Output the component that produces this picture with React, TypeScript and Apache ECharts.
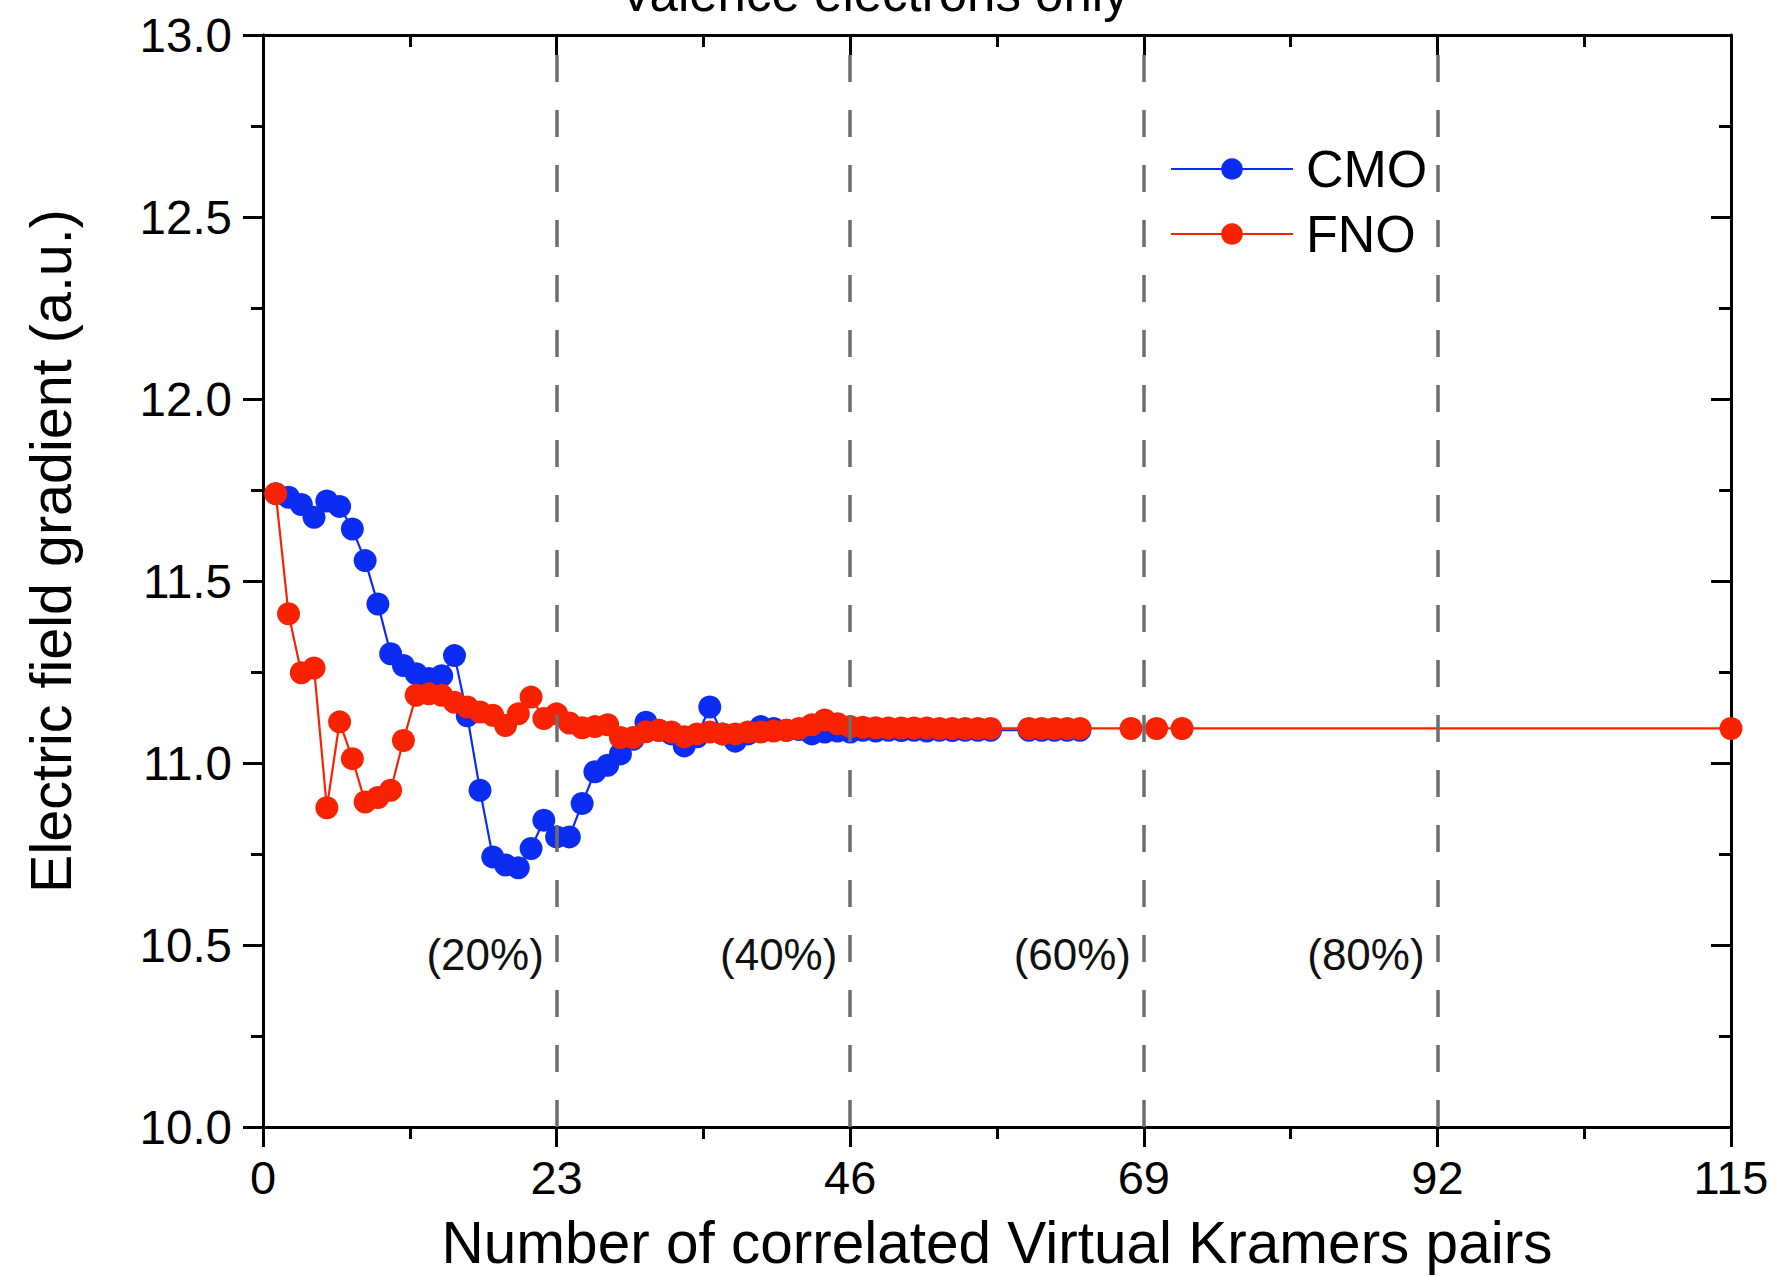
import React, { useEffect, useRef } from "react";
import * as echarts from "echarts";

const titleText = "Valence electrons only";
const xAxisTitle = "Number of correlated Virtual Kramers pairs";
const yAxisTitle = "Electric field gradient (a.u.)";

const cmoX = [
  1, 2, 3, 4, 5, 6, 7, 8, 9, 10, 11, 12, 13, 14, 15, 16, 17, 18, 19, 20,
  21, 22, 23, 24, 25, 26, 27, 28, 29, 30, 31, 32, 33, 34, 35, 36, 37, 38, 39, 40,
  41, 42, 43, 44, 45, 46, 47, 48, 49, 50, 51, 52, 53, 54, 55, 56, 57,
  60, 61, 62, 63, 64,
];
const cmoY = [
  11.74, 11.73, 11.71, 11.675, 11.72, 11.705, 11.643, 11.556, 11.437, 11.3,
  11.268, 11.245, 11.232, 11.24, 11.295, 11.13, 10.925, 10.742, 10.72, 10.712,
  10.765, 10.843, 10.797, 10.797, 10.889, 10.976, 10.994, 11.025, 11.065, 11.112,
  11.09, 11.08, 11.047, 11.072, 11.154, 11.08, 11.06, 11.08, 11.1, 11.095,
  11.09, 11.092, 11.08, 11.085, 11.088, 11.085, 11.09, 11.088, 11.09, 11.089,
  11.09, 11.088, 11.09, 11.089, 11.09, 11.09, 11.09,
  11.09, 11.09, 11.09, 11.09, 11.09,
];

const fnoX = [
  1, 2, 3, 4, 5, 6, 7, 8, 9, 10, 11, 12, 13, 14, 15, 16, 17, 18, 19, 20,
  21, 22, 23, 24, 25, 26, 27, 28, 29, 30, 31, 32, 33, 34, 35, 36, 37, 38, 39, 40,
  41, 42, 43, 44, 45, 46, 47, 48, 49, 50, 51, 52, 53, 54, 55, 56, 57,
  60, 61, 62, 63, 64, 68, 70, 72, 115,
];
const fnoY = [
  11.74, 11.41, 11.248, 11.261, 10.877, 11.113, 11.012, 10.893, 10.905, 10.925,
  11.062, 11.186, 11.19, 11.186, 11.167, 11.154, 11.14, 11.131, 11.103, 11.135,
  11.181, 11.122, 11.135, 11.11, 11.097, 11.1, 11.105, 11.07, 11.07, 11.086,
  11.09, 11.085, 11.072, 11.08, 11.085, 11.08, 11.08, 11.085, 11.085, 11.088,
  11.09, 11.095, 11.105, 11.118, 11.108, 11.1, 11.098, 11.097, 11.096, 11.096,
  11.096, 11.096, 11.095, 11.095, 11.095, 11.095, 11.095,
  11.095, 11.095, 11.095, 11.095, 11.095, 11.095, 11.095, 11.095, 11.095,
];

const boundaries = [23, 46, 69, 92];
const pctLabels = ["(20%)", "(40%)", "(60%)", "(80%)"];
const pctLabelOffset = 5.6;
const pctLabelY = 10.475;

const BLUE = "#0b2cf2";
const RED = "#f82200";
const FONT = "'Liberation Sans', Arial, sans-serif";

export default function App() {
  const ref = useRef<HTMLDivElement>(null);

  useEffect(() => {
    const chart = echarts.init(ref.current!, null, { renderer: "svg" });
    const pair = (xs: number[], ys: number[]) => xs.map((x, i) => [x, ys[i]]);
    const axisLine = { onZero: false, lineStyle: { color: "#000", width: 3 } };
    const tickStyle = { color: "#000", width: 3 };

    chart.setOption({
      animation: false,
      backgroundColor: "#ffffff",
      textStyle: { fontFamily: FONT },
      grid: { left: 263, right: 43, top: 35, bottom: 148 },
      legend: {
        data: ["CMO", "FNO"],
        orient: "vertical",
        left: 1165,
        top: 138,
        itemWidth: 122,
        itemHeight: 27,
        itemGap: 13,
        textStyle: { fontSize: 52, color: "#000", fontFamily: FONT, padding: [0, 0, 0, 8] },
      },
      xAxis: [
        {
          type: "value",
          position: "bottom",
          min: 0,
          max: 115,
          interval: 23,
          name: xAxisTitle,
          nameLocation: "middle",
          nameGap: 86,
          nameTextStyle: { fontSize: 58.5, color: "#000", fontFamily: FONT },
          axisLine,
          axisTick: { length: 20, lineStyle: tickStyle },
          minorTick: { show: true, splitNumber: 2, length: 12, lineStyle: tickStyle },
          axisLabel: { fontSize: 47, color: "#000", margin: 27, fontFamily: FONT },
          splitLine: { show: false },
        },
        {
          type: "value",
          position: "top",
          min: 0,
          max: 115,
          interval: 23,
          axisLine,
          axisTick: { inside: true, length: 20, lineStyle: tickStyle },
          minorTick: { show: true, splitNumber: 2, length: 12, lineStyle: tickStyle },
          axisLabel: { show: false },
          splitLine: { show: false },
        },
      ],
      yAxis: [
        {
          type: "value",
          position: "left",
          min: 10,
          max: 13,
          interval: 0.5,
          axisLine,
          axisTick: { length: 20, lineStyle: tickStyle },
          minorTick: { show: true, splitNumber: 2, length: 12, lineStyle: tickStyle },
          axisLabel: {
            fontSize: 47.5,
            color: "#000",
            margin: 31,
            fontFamily: FONT,
            formatter: (v: number) => v.toFixed(1),
          },
          splitLine: { show: false },
        },
        {
          type: "value",
          position: "right",
          min: 10,
          max: 13,
          interval: 0.5,
          axisLine,
          axisTick: { inside: true, length: 20, lineStyle: tickStyle },
          minorTick: { show: true, splitNumber: 2, length: 12, lineStyle: tickStyle },
          axisLabel: { show: false },
          splitLine: { show: false },
        },
      ],
      graphic: [
        {
          type: "text",
          x: 874,
          y: -7,
          style: {
            text: titleText,
            fontSize: 51,
            fontFamily: FONT,
            fill: "#000",
            align: "center",
            verticalAlign: "middle",
          },
        },
        {
          type: "text",
          x: 51,
          y: 551,
          rotation: Math.PI / 2,
          style: {
            text: yAxisTitle,
            fontSize: 57.5,
            fontFamily: FONT,
            fill: "#000",
            align: "center",
            verticalAlign: "middle",
          },
        },
      ],
      series: [
        {
          name: "CMO",
          type: "line",
          xAxisIndex: 0,
          yAxisIndex: 0,
          data: pair(cmoX, cmoY),
          symbol: "circle",
          symbolSize: 23,
          lineStyle: { color: BLUE, width: 2.2 },
          itemStyle: { color: BLUE },
          z: 2,
        },
        {
          name: "FNO",
          type: "line",
          xAxisIndex: 0,
          yAxisIndex: 0,
          data: pair(fnoX, fnoY),
          symbol: "circle",
          symbolSize: 23,
          lineStyle: { color: RED, width: 2.2 },
          itemStyle: { color: RED },
          z: 3,
          markLine: {
            silent: true,
            symbol: ["none", "none"],
            label: { show: false },
            lineStyle: { type: [27, 28], color: "#6e6e6e", width: 3.5 },
            data: boundaries.map((b) => ({ xAxis: b })),
            z: 5,
          },
        },
        {
          name: "labels",
          type: "scatter",
          xAxisIndex: 0,
          yAxisIndex: 0,
          silent: true,
          symbolSize: 1,
          itemStyle: { color: "rgba(0,0,0,0)", opacity: 1 },
          data: boundaries.map((b, i) => [b - pctLabelOffset, pctLabelY, pctLabels[i]]),
          label: {
            show: true,
            position: "inside",
            formatter: (p: any) => p.value[2],
            fontSize: 44,
            color: "#111",
            opacity: 1,
            fontFamily: FONT,
          },
          z: 4,
        },
      ],
    });

    return () => chart.dispose();
  }, []);

  return (
    <div
      ref={ref}
      style={{ position: "fixed", left: 0, top: 0, width: 1774, height: 1277, background: "#fff" }}
    />
  );
}
